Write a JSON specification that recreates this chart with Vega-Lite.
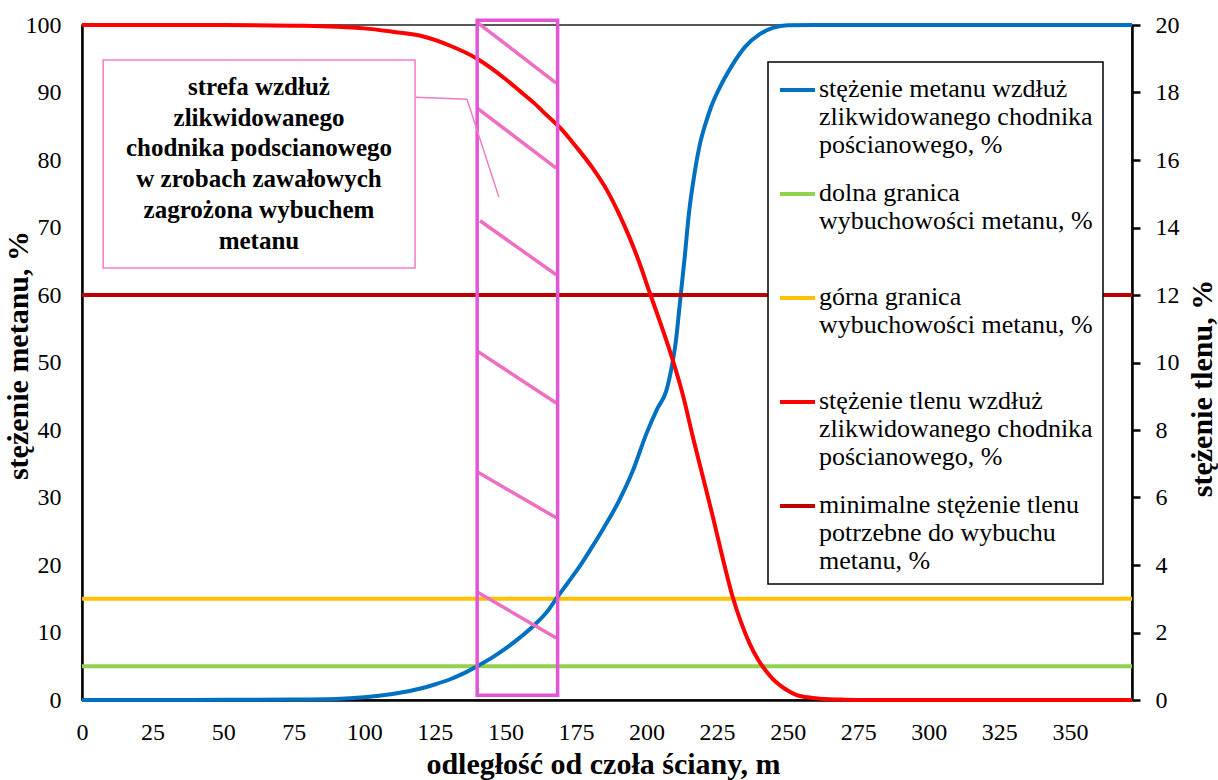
{
  "$schema": "https://vega.github.io/schema/vega-lite/v6.json",
  "width": 1050,
  "height": 675,
  "autosize": {"type": "none"},
  "padding": {"left": 82, "top": 25, "right": 86, "bottom": 80},
  "background": "white",
  "datasets": {
    "left": [
      {"x": 0, "value": 5, "series": "dolna granica wybuchowości metanu, %"},
      {"x": 372, "value": 5, "series": "dolna granica wybuchowości metanu, %"},
      {"x": 0, "value": 15, "series": "górna granica wybuchowości metanu, %"},
      {"x": 372, "value": 15, "series": "górna granica wybuchowości metanu, %"},
      {"x": 0, "value": 0, "series": "stężenie metanu wzdłuż zlikwidowanego chodnika pościanowego, %"},
      {"x": 25, "value": 0, "series": "stężenie metanu wzdłuż zlikwidowanego chodnika pościanowego, %"},
      {"x": 50, "value": 0.02, "series": "stężenie metanu wzdłuż zlikwidowanego chodnika pościanowego, %"},
      {"x": 75, "value": 0.06, "series": "stężenie metanu wzdłuż zlikwidowanego chodnika pościanowego, %"},
      {"x": 90, "value": 0.15, "series": "stężenie metanu wzdłuż zlikwidowanego chodnika pościanowego, %"},
      {"x": 100, "value": 0.4, "series": "stężenie metanu wzdłuż zlikwidowanego chodnika pościanowego, %"},
      {"x": 110, "value": 0.9, "series": "stężenie metanu wzdłuż zlikwidowanego chodnika pościanowego, %"},
      {"x": 120, "value": 1.7, "series": "stężenie metanu wzdłuż zlikwidowanego chodnika pościanowego, %"},
      {"x": 125, "value": 2.3, "series": "stężenie metanu wzdłuż zlikwidowanego chodnika pościanowego, %"},
      {"x": 130, "value": 3.0, "series": "stężenie metanu wzdłuż zlikwidowanego chodnika pościanowego, %"},
      {"x": 135, "value": 3.9, "series": "stężenie metanu wzdłuż zlikwidowanego chodnika pościanowego, %"},
      {"x": 140, "value": 5.0, "series": "stężenie metanu wzdłuż zlikwidowanego chodnika pościanowego, %"},
      {"x": 145, "value": 6.2, "series": "stężenie metanu wzdłuż zlikwidowanego chodnika pościanowego, %"},
      {"x": 150, "value": 7.6, "series": "stężenie metanu wzdłuż zlikwidowanego chodnika pościanowego, %"},
      {"x": 155, "value": 9.2, "series": "stężenie metanu wzdłuż zlikwidowanego chodnika pościanowego, %"},
      {"x": 160, "value": 11.0, "series": "stężenie metanu wzdłuż zlikwidowanego chodnika pościanowego, %"},
      {"x": 165, "value": 13.2, "series": "stężenie metanu wzdłuż zlikwidowanego chodnika pościanowego, %"},
      {"x": 168, "value": 15.0, "series": "stężenie metanu wzdłuż zlikwidowanego chodnika pościanowego, %"},
      {"x": 172, "value": 17.3, "series": "stężenie metanu wzdłuż zlikwidowanego chodnika pościanowego, %"},
      {"x": 176, "value": 19.6, "series": "stężenie metanu wzdłuż zlikwidowanego chodnika pościanowego, %"},
      {"x": 180, "value": 22.2, "series": "stężenie metanu wzdłuż zlikwidowanego chodnika pościanowego, %"},
      {"x": 185, "value": 25.6, "series": "stężenie metanu wzdłuż zlikwidowanego chodnika pościanowego, %"},
      {"x": 190, "value": 29.3, "series": "stężenie metanu wzdłuż zlikwidowanego chodnika pościanowego, %"},
      {"x": 195, "value": 33.8, "series": "stężenie metanu wzdłuż zlikwidowanego chodnika pościanowego, %"},
      {"x": 200, "value": 39.5, "series": "stężenie metanu wzdłuż zlikwidowanego chodnika pościanowego, %"},
      {"x": 204, "value": 43.3, "series": "stężenie metanu wzdłuż zlikwidowanego chodnika pościanowego, %"},
      {"x": 207, "value": 45.8, "series": "stężenie metanu wzdłuż zlikwidowanego chodnika pościanowego, %"},
      {"x": 209, "value": 49.5, "series": "stężenie metanu wzdłuż zlikwidowanego chodnika pościanowego, %"},
      {"x": 210.5, "value": 53.5, "series": "stężenie metanu wzdłuż zlikwidowanego chodnika pościanowego, %"},
      {"x": 211.5, "value": 57.5, "series": "stężenie metanu wzdłuż zlikwidowanego chodnika pościanowego, %"},
      {"x": 212.5, "value": 61.5, "series": "stężenie metanu wzdłuż zlikwidowanego chodnika pościanowego, %"},
      {"x": 213.5, "value": 65.5, "series": "stężenie metanu wzdłuż zlikwidowanego chodnika pościanowego, %"},
      {"x": 215, "value": 72, "series": "stężenie metanu wzdłuż zlikwidowanego chodnika pościanowego, %"},
      {"x": 217, "value": 78, "series": "stężenie metanu wzdłuż zlikwidowanego chodnika pościanowego, %"},
      {"x": 219, "value": 82.5, "series": "stężenie metanu wzdłuż zlikwidowanego chodnika pościanowego, %"},
      {"x": 221, "value": 85.5, "series": "stężenie metanu wzdłuż zlikwidowanego chodnika pościanowego, %"},
      {"x": 223, "value": 88, "series": "stężenie metanu wzdłuż zlikwidowanego chodnika pościanowego, %"},
      {"x": 226, "value": 90.8, "series": "stężenie metanu wzdłuż zlikwidowanego chodnika pościanowego, %"},
      {"x": 230, "value": 93.8, "series": "stężenie metanu wzdłuż zlikwidowanego chodnika pościanowego, %"},
      {"x": 235, "value": 96.8, "series": "stężenie metanu wzdłuż zlikwidowanego chodnika pościanowego, %"},
      {"x": 240, "value": 98.6, "series": "stężenie metanu wzdłuż zlikwidowanego chodnika pościanowego, %"},
      {"x": 245, "value": 99.6, "series": "stężenie metanu wzdłuż zlikwidowanego chodnika pościanowego, %"},
      {"x": 250, "value": 99.95, "series": "stężenie metanu wzdłuż zlikwidowanego chodnika pościanowego, %"},
      {"x": 260, "value": 100, "series": "stężenie metanu wzdłuż zlikwidowanego chodnika pościanowego, %"},
      {"x": 372, "value": 100, "series": "stężenie metanu wzdłuż zlikwidowanego chodnika pościanowego, %"}
    ],
    "right": [
      {"x": 0, "value": 12, "series": "minimalne stężenie tlenu potrzebne do wybuchu metanu, %"},
      {"x": 372, "value": 12, "series": "minimalne stężenie tlenu potrzebne do wybuchu metanu, %"},
      {"x": 0, "value": 20, "series": "stężenie tlenu wzdłuż zlikwidowanego chodnika pościanowego, %"},
      {"x": 50, "value": 20, "series": "stężenie tlenu wzdłuż zlikwidowanego chodnika pościanowego, %"},
      {"x": 75, "value": 19.98, "series": "stężenie tlenu wzdłuż zlikwidowanego chodnika pościanowego, %"},
      {"x": 90, "value": 19.95, "series": "stężenie tlenu wzdłuż zlikwidowanego chodnika pościanowego, %"},
      {"x": 100, "value": 19.9, "series": "stężenie tlenu wzdłuż zlikwidowanego chodnika pościanowego, %"},
      {"x": 110, "value": 19.8, "series": "stężenie tlenu wzdłuż zlikwidowanego chodnika pościanowego, %"},
      {"x": 120, "value": 19.68, "series": "stężenie tlenu wzdłuż zlikwidowanego chodnika pościanowego, %"},
      {"x": 130, "value": 19.4, "series": "stężenie tlenu wzdłuż zlikwidowanego chodnika pościanowego, %"},
      {"x": 140, "value": 19.0, "series": "stężenie tlenu wzdłuż zlikwidowanego chodnika pościanowego, %"},
      {"x": 150, "value": 18.4, "series": "stężenie tlenu wzdłuż zlikwidowanego chodnika pościanowego, %"},
      {"x": 155, "value": 18.05, "series": "stężenie tlenu wzdłuż zlikwidowanego chodnika pościanowego, %"},
      {"x": 160, "value": 17.7, "series": "stężenie tlenu wzdłuż zlikwidowanego chodnika pościanowego, %"},
      {"x": 165, "value": 17.3, "series": "stężenie tlenu wzdłuż zlikwidowanego chodnika pościanowego, %"},
      {"x": 170, "value": 16.9, "series": "stężenie tlenu wzdłuż zlikwidowanego chodnika pościanowego, %"},
      {"x": 175, "value": 16.4, "series": "stężenie tlenu wzdłuż zlikwidowanego chodnika pościanowego, %"},
      {"x": 181, "value": 15.75, "series": "stężenie tlenu wzdłuż zlikwidowanego chodnika pościanowego, %"},
      {"x": 186, "value": 15.1, "series": "stężenie tlenu wzdłuż zlikwidowanego chodnika pościanowego, %"},
      {"x": 190, "value": 14.45, "series": "stężenie tlenu wzdłuż zlikwidowanego chodnika pościanowego, %"},
      {"x": 194, "value": 13.7, "series": "stężenie tlenu wzdłuż zlikwidowanego chodnika pościanowego, %"},
      {"x": 197.5, "value": 12.95, "series": "stężenie tlenu wzdłuż zlikwidowanego chodnika pościanowego, %"},
      {"x": 201, "value": 12.1, "series": "stężenie tlenu wzdłuż zlikwidowanego chodnika pościanowego, %"},
      {"x": 205, "value": 11.15, "series": "stężenie tlenu wzdłuż zlikwidowanego chodnika pościanowego, %"},
      {"x": 209.3, "value": 10.07, "series": "stężenie tlenu wzdłuż zlikwidowanego chodnika pościanowego, %"},
      {"x": 213, "value": 9.0, "series": "stężenie tlenu wzdłuż zlikwidowanego chodnika pościanowego, %"},
      {"x": 216.4, "value": 7.8, "series": "stężenie tlenu wzdłuż zlikwidowanego chodnika pościanowego, %"},
      {"x": 220, "value": 6.6, "series": "stężenie tlenu wzdłuż zlikwidowanego chodnika pościanowego, %"},
      {"x": 223.5, "value": 5.43, "series": "stężenie tlenu wzdłuż zlikwidowanego chodnika pościanowego, %"},
      {"x": 227, "value": 4.2, "series": "stężenie tlenu wzdłuż zlikwidowanego chodnika pościanowego, %"},
      {"x": 230.5, "value": 3.06, "series": "stężenie tlenu wzdłuż zlikwidowanego chodnika pościanowego, %"},
      {"x": 233.5, "value": 2.3, "series": "stężenie tlenu wzdłuż zlikwidowanego chodnika pościanowego, %"},
      {"x": 236.5, "value": 1.68, "series": "stężenie tlenu wzdłuż zlikwidowanego chodnika pościanowego, %"},
      {"x": 239.5, "value": 1.2, "series": "stężenie tlenu wzdłuż zlikwidowanego chodnika pościanowego, %"},
      {"x": 242.4, "value": 0.85, "series": "stężenie tlenu wzdłuż zlikwidowanego chodnika pościanowego, %"},
      {"x": 245, "value": 0.6, "series": "stężenie tlenu wzdłuż zlikwidowanego chodnika pościanowego, %"},
      {"x": 247.1, "value": 0.45, "series": "stężenie tlenu wzdłuż zlikwidowanego chodnika pościanowego, %"},
      {"x": 250, "value": 0.28, "series": "stężenie tlenu wzdłuż zlikwidowanego chodnika pościanowego, %"},
      {"x": 253, "value": 0.15, "series": "stężenie tlenu wzdłuż zlikwidowanego chodnika pościanowego, %"},
      {"x": 257, "value": 0.08, "series": "stężenie tlenu wzdłuż zlikwidowanego chodnika pościanowego, %"},
      {"x": 261.4, "value": 0.04, "series": "stężenie tlenu wzdłuż zlikwidowanego chodnika pościanowego, %"},
      {"x": 270, "value": 0.01, "series": "stężenie tlenu wzdłuż zlikwidowanego chodnika pościanowego, %"},
      {"x": 280, "value": 0, "series": "stężenie tlenu wzdłuż zlikwidowanego chodnika pościanowego, %"},
      {"x": 372, "value": 0, "series": "stężenie tlenu wzdłuż zlikwidowanego chodnika pościanowego, %"}
    ],
    "zone": [{"x": 140, "x2": 168.5, "y": 0.7, "y2": 100.7}],
    "hatch": [
      {"x": 140, "x2": 168, "y": 100.4, "y2": 91.4},
      {"x": 140, "x2": 168, "y": 87.7, "y2": 78.8},
      {"x": 141, "x2": 168, "y": 71.0, "y2": 63.0},
      {"x": 140, "x2": 168, "y": 51.7, "y2": 44.0},
      {"x": 140, "x2": 168, "y": 33.8, "y2": 27.0},
      {"x": 140, "x2": 168, "y": 16.0, "y2": 9.2}
    ],
    "leader": [
      {"x": 118.2, "y": 89.3, "order": 1},
      {"x": 136.4, "y": 89.0, "order": 2},
      {"x": 147.7, "y": 74.5, "order": 3}
    ],
    "box": [{"x": 7.5, "x2": 118, "y": 64.0, "y2": 94.8}],
    "note": [{"x": 62.7, "y": 90.8, "text": "strefa wzdłuż\nzlikwidowanego\nchodnika podscianowego\nw zrobach zawałowych\nzagrożona wybuchem\nmetanu"}]
  },
  "layer": [
    {
      "data": {"name": "left"},
      "mark": {"type": "line", "strokeWidth": 4, "interpolate": "monotone"},
      "encoding": {
        "x": {
          "field": "x", "type": "quantitative",
          "scale": {"domain": [0, 372], "nice": false, "zero": false},
          "axis": {
            "values": [0, 25, 50, 75, 100, 125, 150, 175, 200, 225, 250, 275, 300, 325, 350],
            "title": "odległość od czoła ściany, m",
            "labelFlush": false,
            "ticks": false, "tickSize": 0, "labelPadding": 20,
            "titleX": 521, "titleY": 73, "titleBaseline": "alphabetic"
          }
        },
        "y": {
          "field": "value", "type": "quantitative",
          "scale": {"domain": [0, 100], "nice": false},
          "axis": {
            "orient": "left",
            "values": [0, 10, 20, 30, 40, 50, 60, 70, 80, 90, 100],
            "ticks": false, "tickSize": 0, "labelPadding": 21,
            "title": "stężenie metanu, %",
            "titleAngle": 270, "titleX": -55, "titleY": 330,
            "titleBaseline": "alphabetic", "titleAlign": "center"
          }
        },
        "color": {
          "field": "series", "type": "nominal",
          "scale": {
            "domain": [
              "stężenie metanu wzdłuż zlikwidowanego chodnika pościanowego, %",
              "dolna granica wybuchowości metanu, %",
              "górna granica wybuchowości metanu, %",
              "stężenie tlenu wzdłuż zlikwidowanego chodnika pościanowego, %",
              "minimalne stężenie tlenu potrzebne do wybuchu metanu, %"
            ],
            "range": ["#0070C0", "#92D050", "#FFC000", "#FF0000", "#C00000"]
          },
          "legend": {
            "title": null,
            "orient": "none",
            "legendX": 686,
            "legendY": 37,
            "labelExpr": "datum.value == 'dolna granica wybuchowości metanu, %' ? ['dolna granica', 'wybuchowości metanu, %', ' '] : datum.value == 'górna granica wybuchowości metanu, %' ? ['górna granica', 'wybuchowości metanu, %', ' '] : datum.value == 'minimalne stężenie tlenu potrzebne do wybuchu metanu, %' ? ['minimalne stężenie tlenu', 'potrzebne do wybuchu', 'metanu, %'] : datum.value == 'stężenie tlenu wzdłuż zlikwidowanego chodnika pościanowego, %' ? ['stężenie tlenu wzdłuż', 'zlikwidowanego chodnika', 'pościanowego, %'] : ['stężenie metanu wzdłuż', 'zlikwidowanego chodnika', 'pościanowego, %']",
            "encoding": {"labels": {"y": {"value": 4}}, "symbols": {"y": {"value": 18}}}
          }
        }
      }
    },
    {
      "data": {"name": "right"},
      "mark": {"type": "line", "strokeWidth": 4, "interpolate": "monotone"},
      "encoding": {
        "x": {"field": "x", "type": "quantitative", "scale": {"domain": [0, 372], "nice": false, "zero": false}},
        "y": {
          "field": "value", "type": "quantitative",
          "scale": {"domain": [0, 20], "nice": false},
          "axis": {
            "orient": "right",
            "values": [0, 2, 4, 6, 8, 10, 12, 14, 16, 18, 20],
            "ticks": true, "tickSize": 8, "tickWidth": 2.5, "tickColor": "black",
            "labelPadding": 15,
            "title": "stężenie tlenu, %",
            "titleAngle": 270, "titleX": 79, "titleY": 363,
            "titleBaseline": "alphabetic", "titleAlign": "center"
          }
        },
        "color": {"field": "series", "type": "nominal"}
      }
    },
    {
      "layer": [
        {
          "data": {"name": "hatch"},
          "mark": {"type": "rule", "stroke": "#ee6fc2", "strokeWidth": 3.5},
          "encoding": {
            "x": {"field": "x", "type": "quantitative", "scale": {"domain": [0, 372], "nice": false, "zero": false}},
            "x2": {"field": "x2"},
            "y": {"field": "y", "type": "quantitative", "scale": {"domain": [0, 100], "nice": false}, "axis": null},
            "y2": {"field": "y2"}
          }
        },
        {
          "data": {"name": "zone"},
          "mark": {"type": "rect", "fill": "transparent", "stroke": "#e255d6", "strokeWidth": 3.5},
          "encoding": {
            "x": {"field": "x", "type": "quantitative", "scale": {"domain": [0, 372], "nice": false, "zero": false}},
            "x2": {"field": "x2"},
            "y": {"field": "y", "type": "quantitative", "scale": {"domain": [0, 100], "nice": false}, "axis": null},
            "y2": {"field": "y2"}
          }
        },
        {
          "data": {"name": "leader"},
          "mark": {"type": "line", "stroke": "#f07bc6", "strokeWidth": 1.5},
          "encoding": {
            "x": {"field": "x", "type": "quantitative", "scale": {"domain": [0, 372], "nice": false, "zero": false}},
            "y": {"field": "y", "type": "quantitative", "scale": {"domain": [0, 100], "nice": false}, "axis": null},
            "order": {"field": "order"}
          }
        },
        {
          "data": {"name": "box"},
          "mark": {"type": "rect", "fill": "white", "stroke": "#f57ac8", "strokeWidth": 1.5},
          "encoding": {
            "x": {"field": "x", "type": "quantitative", "scale": {"domain": [0, 372], "nice": false, "zero": false}},
            "x2": {"field": "x2"},
            "y": {"field": "y", "type": "quantitative", "scale": {"domain": [0, 100], "nice": false}, "axis": null},
            "y2": {"field": "y2"}
          }
        },
        {
          "data": {"name": "note"},
          "mark": {"type": "text", "font": "Liberation Serif", "fontSize": 25, "fontWeight": "bold", "lineHeight": 30.7, "lineBreak": "\n", "align": "center", "baseline": "middle", "color": "black"},
          "encoding": {
            "x": {"field": "x", "type": "quantitative", "scale": {"domain": [0, 372], "nice": false, "zero": false}},
            "y": {"field": "y", "type": "quantitative", "scale": {"domain": [0, 100], "nice": false}, "axis": null},
            "text": {"field": "text"}
          }
        }
      ]
    }
  ],
  "resolve": {"scale": {"y": "independent"}, "axis": {"y": "independent"}},
  "config": {
    "font": "Liberation Serif",
    "view": {"stroke": "#222222", "strokeWidth": 1.5},
    "axis": {
      "grid": false,
      "labelFont": "Liberation Serif", "labelFontSize": 24, "labelColor": "black",
      "titleFont": "Liberation Serif", "titleFontSize": 30, "titleFontWeight": "bold", "titleColor": "black",
      "domainColor": "black", "domainWidth": 2.5
    },
    "legend": {
      "labelFont": "Liberation Serif", "labelFontSize": 26, "labelColor": "black",
      "labelLimit": 600, "labelBaseline": "top", "labelOffset": 2,
      "symbolType": "stroke", "symbolSize": 1225, "symbolStrokeWidth": 4,
      "rowPadding": 18, "padding": 10,
      "strokeColor": "black", "strokeWidth": 1.5, "fillColor": "white"
    }
  }
}
